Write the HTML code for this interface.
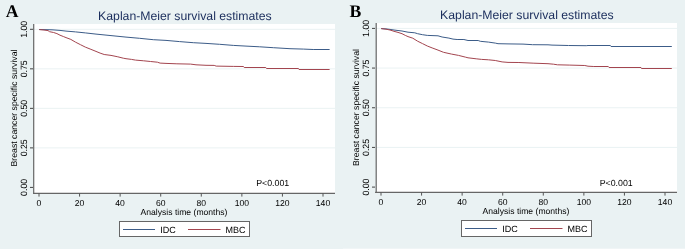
<!DOCTYPE html>
<html><head><meta charset="utf-8"><style>
html,body{margin:0;padding:0;background:#EAF2F3;}
svg{display:block;will-change:transform;}
text{text-rendering:geometricPrecision;}
.t{font-family:"Liberation Sans",sans-serif;font-size:8.6px;fill:#000;}
.yt{font-family:"Liberation Sans",sans-serif;font-size:8.7px;fill:#000;}
.yl{font-family:"Liberation Sans",sans-serif;font-size:9.1px;fill:#000;}
.lg{font-family:"Liberation Sans",sans-serif;font-size:9px;fill:#000;}
.p{font-family:"Liberation Sans",sans-serif;font-size:8.8px;fill:#000;}
.title{font-family:"Liberation Sans",sans-serif;font-size:12.25px;fill:#1a2d5c;}
.lab{text-rendering:geometricPrecision;font-family:"Liberation Serif",serif;font-size:17px;font-weight:bold;fill:#000;}
</style></head><body>
<svg width="685" height="249" viewBox="0 0 685 249">
<rect width="685" height="249" fill="#EAF2F3"/>
<rect x="343" y="248" width="342" height="1" fill="#F0F5F6"/>
<rect x="34.0" y="24" width="301.0" height="169.0" fill="#fff"/>
<line x1="34" x2="335" y1="29.30" y2="29.30" stroke="#EAF2F3" stroke-width="1"/>
<line x1="34" x2="335" y1="68.83" y2="68.83" stroke="#EAF2F3" stroke-width="1"/>
<line x1="34" x2="335" y1="108.35" y2="108.35" stroke="#EAF2F3" stroke-width="1"/>
<line x1="34" x2="335" y1="147.88" y2="147.88" stroke="#EAF2F3" stroke-width="1"/>
<line x1="33.7" x2="33.7" y1="24" y2="193.9" stroke="#666" stroke-width="1.2"/>
<line x1="33.1" x2="335" y1="193.3" y2="193.3" stroke="#666" stroke-width="1.2"/>
<line x1="30" x2="33" y1="29.30" y2="29.30" stroke="#444" stroke-width="1"/>
<text x="0" y="0" transform="translate(26.6,29.30) rotate(-90) scale(0.96,1)" text-anchor="middle" class="yl">1.00</text>
<line x1="30" x2="33" y1="68.83" y2="68.83" stroke="#444" stroke-width="1"/>
<text x="0" y="0" transform="translate(26.6,68.83) rotate(-90) scale(0.96,1)" text-anchor="middle" class="yl">0.75</text>
<line x1="30" x2="33" y1="108.35" y2="108.35" stroke="#444" stroke-width="1"/>
<text x="0" y="0" transform="translate(26.6,108.35) rotate(-90) scale(0.96,1)" text-anchor="middle" class="yl">0.50</text>
<line x1="30" x2="33" y1="147.88" y2="147.88" stroke="#444" stroke-width="1"/>
<text x="0" y="0" transform="translate(26.6,147.88) rotate(-90) scale(0.96,1)" text-anchor="middle" class="yl">0.25</text>
<line x1="30" x2="33" y1="187.40" y2="187.40" stroke="#444" stroke-width="1"/>
<text x="0" y="0" transform="translate(26.6,187.40) rotate(-90) scale(0.96,1)" text-anchor="middle" class="yl">0.00</text>
<line x1="39.00" x2="39.00" y1="193.3" y2="196.60000000000002" stroke="#555" stroke-width="1"/>
<text x="39.00" y="206.3" text-anchor="middle" class="t">0</text>
<line x1="79.57" x2="79.57" y1="193.3" y2="196.60000000000002" stroke="#555" stroke-width="1"/>
<text x="79.57" y="206.3" text-anchor="middle" class="t">20</text>
<line x1="120.14" x2="120.14" y1="193.3" y2="196.60000000000002" stroke="#555" stroke-width="1"/>
<text x="120.14" y="206.3" text-anchor="middle" class="t">40</text>
<line x1="160.71" x2="160.71" y1="193.3" y2="196.60000000000002" stroke="#555" stroke-width="1"/>
<text x="160.71" y="206.3" text-anchor="middle" class="t">60</text>
<line x1="201.29" x2="201.29" y1="193.3" y2="196.60000000000002" stroke="#555" stroke-width="1"/>
<text x="201.29" y="206.3" text-anchor="middle" class="t">80</text>
<line x1="241.86" x2="241.86" y1="193.3" y2="196.60000000000002" stroke="#555" stroke-width="1"/>
<text x="241.86" y="206.3" text-anchor="middle" class="t">100</text>
<line x1="282.43" x2="282.43" y1="193.3" y2="196.60000000000002" stroke="#555" stroke-width="1"/>
<text x="282.43" y="206.3" text-anchor="middle" class="t">120</text>
<line x1="323.00" x2="323.00" y1="193.3" y2="196.60000000000002" stroke="#555" stroke-width="1"/>
<text x="323.00" y="206.3" text-anchor="middle" class="t">140</text>
<text x="184.9" y="20.4" text-anchor="middle" class="title">Kaplan-Meier survival estimates</text>
<text x="0" y="0" transform="translate(17,108.00) rotate(-90)" text-anchor="middle" class="yt">Breast cancer specific survival</text>
<text x="184" y="214.8" text-anchor="middle" class="t">Analysis time (months)</text>
<text x="256.2" y="186.2" class="p">P&lt;0.001</text>
<text x="0" y="0" transform="translate(5.8,17.0) scale(1.04)" class="lab">A</text>
<rect x="119.5" y="221.5" width="130" height="15" fill="#fff" stroke="#666" stroke-width="1"/>
<line x1="123" x2="155" y1="229.5" y2="229.5" stroke="#3c5c88" stroke-width="1"/>
<text x="160.3" y="232.8" class="lg">IDC</text>
<line x1="188" x2="220.5" y1="229.5" y2="229.5" stroke="#a3454f" stroke-width="1"/>
<text x="225.5" y="232.8" class="lg">MBC</text>
<polyline points="39.2,29.50 52.0,29.80 60.0,30.40 66.0,31.10 75.6,31.90 85.3,32.90 96.0,34.10 111.0,35.60 126.0,37.10 139.6,38.30 153.3,39.70 166.0,40.40 179.6,41.60 193.3,42.70 206.0,43.40 219.6,44.30 233.3,45.40 246.0,46.10 259.7,46.80 273.3,47.70 290.0,48.70 303.7,49.10 313.2,49.50 329.6,49.50" fill="none" stroke="#3c5c88" stroke-width="1" stroke-linejoin="round"/>
<polyline points="39.2,29.60 44.0,30.00 48.0,30.60 49.6,31.70 53.6,32.50 56.9,33.60 60.0,35.20 63.3,36.50 66.0,37.60 70.8,39.40 75.6,42.20 80.5,44.70 85.3,47.10 90.1,49.00 96.0,51.40 100.1,53.10 104.2,54.50 111.0,55.40 117.8,56.80 123.3,58.20 126.0,58.70 131.5,59.40 135.5,60.10 143.7,60.80 150.6,61.50 157.4,62.20 160.1,63.10 166.0,63.40 176.9,63.80 190.6,64.10 196.0,64.80 206.0,65.30 214.2,65.40 216.2,66.10 233.3,66.40 243.5,66.50 244.2,67.50 265.8,67.50 266.5,68.50 298.5,68.50 299.0,69.50 329.6,69.50" fill="none" stroke="#a3454f" stroke-width="1" stroke-linejoin="round"/>
<rect x="376.5" y="23" width="300.5" height="169.0" fill="#fff"/>
<line x1="376" x2="677" y1="28.40" y2="28.40" stroke="#EAF2F3" stroke-width="1"/>
<line x1="376" x2="677" y1="68.07" y2="68.07" stroke="#EAF2F3" stroke-width="1"/>
<line x1="376" x2="677" y1="107.75" y2="107.75" stroke="#EAF2F3" stroke-width="1"/>
<line x1="376" x2="677" y1="147.42" y2="147.42" stroke="#EAF2F3" stroke-width="1"/>
<line x1="376.2" x2="376.2" y1="23" y2="192.9" stroke="#666" stroke-width="1.2"/>
<line x1="375.1" x2="677" y1="192.3" y2="192.3" stroke="#666" stroke-width="1.2"/>
<line x1="372" x2="375" y1="28.40" y2="28.40" stroke="#444" stroke-width="1"/>
<text x="0" y="0" transform="translate(368.6,28.40) rotate(-90) scale(0.96,1)" text-anchor="middle" class="yl">1.00</text>
<line x1="372" x2="375" y1="68.07" y2="68.07" stroke="#444" stroke-width="1"/>
<text x="0" y="0" transform="translate(368.6,68.07) rotate(-90) scale(0.96,1)" text-anchor="middle" class="yl">0.75</text>
<line x1="372" x2="375" y1="107.75" y2="107.75" stroke="#444" stroke-width="1"/>
<text x="0" y="0" transform="translate(368.6,107.75) rotate(-90) scale(0.96,1)" text-anchor="middle" class="yl">0.50</text>
<line x1="372" x2="375" y1="147.42" y2="147.42" stroke="#444" stroke-width="1"/>
<text x="0" y="0" transform="translate(368.6,147.42) rotate(-90) scale(0.96,1)" text-anchor="middle" class="yl">0.25</text>
<line x1="372" x2="375" y1="187.10" y2="187.10" stroke="#444" stroke-width="1"/>
<text x="0" y="0" transform="translate(368.6,187.10) rotate(-90) scale(0.96,1)" text-anchor="middle" class="yl">0.00</text>
<line x1="381.00" x2="381.00" y1="192.3" y2="195.60000000000002" stroke="#555" stroke-width="1"/>
<text x="381.00" y="205.3" text-anchor="middle" class="t">0</text>
<line x1="421.57" x2="421.57" y1="192.3" y2="195.60000000000002" stroke="#555" stroke-width="1"/>
<text x="421.57" y="205.3" text-anchor="middle" class="t">20</text>
<line x1="462.14" x2="462.14" y1="192.3" y2="195.60000000000002" stroke="#555" stroke-width="1"/>
<text x="462.14" y="205.3" text-anchor="middle" class="t">40</text>
<line x1="502.71" x2="502.71" y1="192.3" y2="195.60000000000002" stroke="#555" stroke-width="1"/>
<text x="502.71" y="205.3" text-anchor="middle" class="t">60</text>
<line x1="543.29" x2="543.29" y1="192.3" y2="195.60000000000002" stroke="#555" stroke-width="1"/>
<text x="543.29" y="205.3" text-anchor="middle" class="t">80</text>
<line x1="583.86" x2="583.86" y1="192.3" y2="195.60000000000002" stroke="#555" stroke-width="1"/>
<text x="583.86" y="205.3" text-anchor="middle" class="t">100</text>
<line x1="624.43" x2="624.43" y1="192.3" y2="195.60000000000002" stroke="#555" stroke-width="1"/>
<text x="624.43" y="205.3" text-anchor="middle" class="t">120</text>
<line x1="665.00" x2="665.00" y1="192.3" y2="195.60000000000002" stroke="#555" stroke-width="1"/>
<text x="665.00" y="205.3" text-anchor="middle" class="t">140</text>
<text x="526.9" y="19.4" text-anchor="middle" class="title">Kaplan-Meier survival estimates</text>
<text x="0" y="0" transform="translate(359,107.50) rotate(-90)" text-anchor="middle" class="yt">Breast cancer specific survival</text>
<text x="526" y="213.8" text-anchor="middle" class="t">Analysis time (months)</text>
<text x="599.7" y="185.79999999999998" class="p">P&lt;0.001</text>
<text x="0" y="0" transform="translate(349.5,17.0) scale(1.04)" class="lab">B</text>
<rect x="461.5" y="220.5" width="130" height="16" fill="#fff" stroke="#666" stroke-width="1"/>
<line x1="465" x2="497" y1="228.5" y2="228.5" stroke="#3c5c88" stroke-width="1"/>
<text x="502.3" y="232.20000000000002" class="lg">IDC</text>
<line x1="530" x2="562.5" y1="228.5" y2="228.5" stroke="#a3454f" stroke-width="1"/>
<text x="567.5" y="232.20000000000002" class="lg">MBC</text>
<polyline points="381.2,28.60 386.0,28.90 390.0,29.40 394.0,30.00 398.0,30.50 402.0,31.00 408.0,32.20 414.8,32.80 417.6,33.70 422.5,34.70 427.3,35.40 438.0,35.80 442.1,37.00 448.9,38.10 453.0,39.10 457.1,39.50 463.9,39.50 468.0,40.50 478.2,40.50 480.3,41.30 488.5,42.10 495.3,43.10 498.0,43.70 508.0,43.90 523.0,44.10 532.6,44.70 548.0,44.80 552.0,45.10 568.5,45.50 586.2,45.70 588.0,45.50 610.4,45.50 611.0,46.50 671.8,46.50" fill="none" stroke="#3c5c88" stroke-width="1" stroke-linejoin="round"/>
<polyline points="381.2,28.60 386.0,29.20 390.0,30.00 394.0,31.30 398.0,32.40 402.0,33.70 405.3,35.40 408.0,36.60 412.8,38.20 417.6,41.20 422.5,43.60 427.3,46.00 432.1,47.90 438.0,50.10 443.5,52.30 451.6,54.10 458.5,55.40 465.3,57.10 468.0,57.80 476.2,58.80 481.6,59.40 488.5,59.80 495.3,60.50 502.1,61.90 508.0,62.40 518.9,62.50 533.9,63.20 548.0,63.70 553.5,64.20 557.5,64.80 569.8,65.10 584.8,65.50 588.0,66.20 593.8,66.50 608.3,66.50 609.0,67.50 641.0,67.50 641.5,68.50 671.8,68.50" fill="none" stroke="#a3454f" stroke-width="1" stroke-linejoin="round"/>
</svg>
</body></html>
